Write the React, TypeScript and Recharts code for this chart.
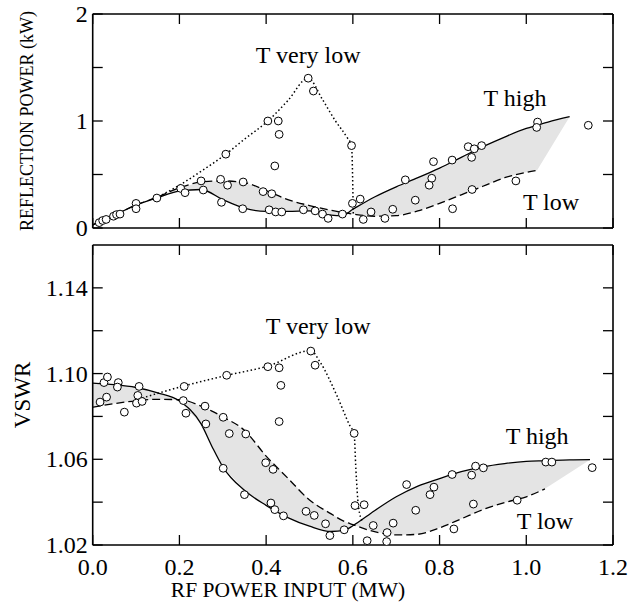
import React from 'react';
import { ComposedChart, Line, Area, Scatter, XAxis, YAxis, ReferenceDot } from 'recharts';

const FONT = "'Liberation Serif', 'Times New Roman', Times, serif";

// shared x axis, RF power input (MW)
const xTicks = [0, 0.2, 0.4, 0.6, 0.8, 1.0, 1.2];

// ---- top panel: reflection power (kW)
const reflTicks = [0, 0.5, 1, 1.5, 2];
const reflX = [0, 0.05, 0.1, 0.15, 0.2, 0.25, 0.3, 0.35, 0.4, 0.45, 0.5, 0.55, 0.575, 0.6, 0.65, 0.7, 0.75, 0.8, 0.85, 0.9, 0.95, 1.0, 1.025, 1.05, 1.1];
const reflHigh = [0.03, 0.12, 0.215, 0.285, 0.345, 0.36, 0.265, 0.185, 0.155, 0.155, 0.16, 0.12, 0.115, 0.175, 0.29, 0.385, 0.47, 0.56, 0.66, 0.76, 0.85, 0.93, 0.96, 0.99, 1.04];
const reflLow = [0.03, 0.12, 0.215, 0.29, 0.375, 0.43, 0.44, 0.425, 0.35, 0.265, 0.21, 0.165, 0.145, 0.13, 0.11, 0.115, 0.16, 0.23, 0.31, 0.39, 0.47, 0.52, 0.54, null, null];
const reflVeryLowX = [0.16, 0.2, 0.25, 0.307, 0.35, 0.404, 0.45, 0.497, 0.53, 0.56, 0.586, 0.597, 0.601];
const reflVeryLowY = [0.31, 0.4, 0.53, 0.69, 0.83, 1.0, 1.19, 1.4, 1.2, 1.0, 0.85, 0.77, 0.13];
const reflPtsX = [0.015, 0.023, 0.031, 0.048, 0.055, 0.063, 0.1, 0.1, 0.148, 0.203, 0.213, 0.255, 0.25, 0.295, 0.297, 0.311, 0.346, 0.347, 0.307, 0.393, 0.413, 0.404, 0.428, 0.43, 0.42, 0.407, 0.422, 0.436, 0.486, 0.513, 0.53, 0.543, 0.497, 0.509, 0.576, 0.597, 0.599, 0.617, 0.624, 0.642, 0.674, 0.692, 0.721, 0.744, 0.782, 0.776, 0.786, 0.829, 0.83, 0.866, 0.88, 0.897, 0.874, 0.875, 0.976, 1.026, 1.024, 1.143];
const reflPtsY = [0.05, 0.07, 0.08, 0.11, 0.125, 0.13, 0.23, 0.18, 0.28, 0.37, 0.33, 0.355, 0.44, 0.455, 0.24, 0.4, 0.18, 0.43, 0.69, 0.34, 0.32, 1.0, 1.0, 0.875, 0.58, 0.17, 0.15, 0.15, 0.17, 0.16, 0.13, 0.09, 1.4, 1.28, 0.13, 0.77, 0.23, 0.27, 0.08, 0.15, 0.09, 0.175, 0.45, 0.26, 0.465, 0.4, 0.62, 0.635, 0.18, 0.76, 0.74, 0.77, 0.66, 0.36, 0.44, 0.99, 0.94, 0.96];

// ---- bottom panel: VSWR
const vswrTicks = [1.02, 1.04, 1.06, 1.08, 1.1, 1.12, 1.14];
const vswrLabelled = [1.02, 1.06, 1.1, 1.14];
const vswrX = [0, 0.05, 0.1, 0.15, 0.2, 0.25, 0.275, 0.3, 0.35, 0.4, 0.45, 0.5, 0.55, 0.58, 0.6, 0.65, 0.7, 0.75, 0.8, 0.85, 0.9, 0.95, 1.0, 1.043, 1.1, 1.147];
const vswrHigh = [1.0955, 1.0948, 1.0935, 1.091, 1.0872, 1.0765, 1.066, 1.0565, 1.0455, 1.0385, 1.0328, 1.0288, 1.0263, 1.0268, 1.029, 1.036, 1.0425, 1.0475, 1.051, 1.0542, 1.0565, 1.058, 1.059, 1.0593, 1.0597, 1.0598];
const vswrLow = [1.0843, 1.086, 1.0873, 1.088, 1.0878, 1.0848, 1.0825, 1.0798, 1.0735, 1.0615, 1.0512, 1.041, 1.0345, 1.031, 1.0295, 1.0262, 1.0247, 1.025, 1.028, 1.0322, 1.0365, 1.0398, 1.0425, 1.0462, null, null];
const vswrVeryLowX = [0.114, 0.21, 0.31, 0.404, 0.503, 0.524, 0.563, 0.593, 0.603, 0.607, 0.613, 0.622];
const vswrVeryLowY = [1.0886, 1.0942, 1.0992, 1.1035, 1.1107, 1.1055, 1.0898, 1.0757, 1.0718, 1.0553, 1.038, 1.031];
const vswrPtsX = [0.017, 0.026, 0.034, 0.032, 0.059, 0.057, 0.073, 0.107, 0.104, 0.101, 0.114, 0.211, 0.209, 0.215, 0.259, 0.261, 0.301, 0.315, 0.309, 0.301, 0.353, 0.35, 0.399, 0.416, 0.404, 0.43, 0.434, 0.43, 0.411, 0.42, 0.44, 0.492, 0.511, 0.537, 0.547, 0.503, 0.513, 0.58, 0.603, 0.605, 0.626, 0.633, 0.647, 0.679, 0.678, 0.693, 0.724, 0.745, 0.778, 0.787, 0.829, 0.833, 0.874, 0.883, 0.901, 0.878, 0.979, 1.045, 1.059, 1.152];
const vswrPtsY = [1.0867, 1.0958, 1.0984, 1.089, 1.0958, 1.0937, 1.082, 1.094, 1.0898, 1.0862, 1.087, 1.094, 1.0874, 1.0815, 1.0848, 1.0765, 1.0796, 1.072, 1.0992, 1.0558, 1.0718, 1.0435, 1.0584, 1.0553, 1.1032, 1.1027, 1.0945, 1.0776, 1.0396, 1.0365, 1.0336, 1.0357, 1.0338, 1.0299, 1.0244, 1.1105, 1.1039, 1.0271, 1.0721, 1.0384, 1.0388, 1.022, 1.0291, 1.0258, 1.0216, 1.0302, 1.0482, 1.0362, 1.0435, 1.047, 1.0529, 1.0275, 1.0526, 1.0568, 1.056, 1.0391, 1.0409, 1.0587, 1.0587, 1.0561];

// curve labels
const labelText = ['T very low', 'T high', 'T low'];
const reflLabelX = [0.497, 0.974, 1.057];
const reflLabelY = [1.617, 1.215, 0.243];
const vswrLabelX = [0.52, 1.025, 1.043];
const vswrLabelY = [1.1221, 1.0708, 1.0313];

const curveRows = (xs: number[], hi: number[], lo: (number | null)[]) => {
  const last = xs.length - 1;
  return xs.map((x, i) => ({
    x,
    high: hi[i],
    low: lo[i],
    band: lo[i] != null ? [lo[i], hi[i]] : i === last ? [hi[i], hi[i]] : null,
  }));
};
const zipRows = (xs: number[], ys: number[]) => xs.map((x, i) => ({ x, y: ys[i] }));

const reflRows = curveRows(reflX, reflHigh, reflLow);
const vswrRows = curveRows(vswrX, vswrHigh, vswrLow);

type Side = 'bottom' | 'top' | 'left' | 'right';
const TICK = 10;
const txtStyle = { fontFamily: FONT };

const makeTick = (side: Side, fmt?: (v: number) => string) => (p: any) => {
  const { x, y, payload } = p;
  const v = payload.value;
  let x2 = x;
  let y2 = y;
  if (side === 'bottom') y2 = y - TICK;
  if (side === 'top') y2 = y + TICK;
  if (side === 'left') x2 = x + TICK;
  if (side === 'right') x2 = x - TICK;
  const txt = fmt ? fmt(v) : '';
  return (
    <g>
      <line x1={x} y1={y} x2={x2} y2={y2} stroke="#000" strokeWidth={1.3} />
      {txt && side === 'bottom' && (
        <text x={x} y={y + 22} textAnchor="middle" dominantBaseline="central" style={txtStyle} fontSize={24} fill="#000">
          {txt}
        </text>
      )}
      {txt && side === 'left' && (
        <text x={x - 5} y={y} textAnchor="end" dominantBaseline="central" style={txtStyle} fontSize={24} fill="#000">
          {txt}
        </text>
      )}
    </g>
  );
};

// axis title; placed by page position, the props Recharts injects are ignored
const Title = ({ px, py, text, size, rotate }: any) => (
  <text
    x={px}
    y={py}
    transform={rotate ? `rotate(-90 ${px} ${py})` : undefined}
    textAnchor="middle"
    dominantBaseline="central"
    style={txtStyle}
    fontSize={size}
    fill="#000"
  >
    {text}
  </text>
);

const Dot = (p: any) => <circle cx={p.cx} cy={p.cy} r={3.9} fill="#fff" stroke="#000" strokeWidth={1} />;

const axisLine = { stroke: '#000', strokeWidth: 1.6 };

const Annot = (text: string) => (p: any) => (
  <text x={p.cx} y={p.cy} textAnchor="middle" dominantBaseline="central" style={txtStyle} fontSize={24} fill="#000">
    {text}
  </text>
);

function Panel(props: {
  margin: any;
  yDomain: [number, number];
  yTicks: number[];
  yFmt: (v: number) => string;
  xFmt?: (v: number) => string;
  rows: any[];
  veryLow: any[];
  pts: any[];
  labX: number[];
  labY: number[];
  yTitle: any;
  xTitle?: any;
}) {
  const { margin, yDomain, yTicks, yFmt, xFmt, rows, veryLow, pts, labX, labY } = props;
  return (
    <ComposedChart width={630} height={603} margin={margin}>
      <XAxis
        type="number"
        dataKey="x"
        domain={[0, 1.2]}
        ticks={xTicks}
        interval={0}
        allowDataOverflow
        height={1}
        tickSize={0}
        tickMargin={0}
        tickLine={false}
        axisLine={axisLine}
        tick={makeTick('bottom', xFmt)}
        label={props.xTitle}
      />
      <XAxis
        xAxisId="top"
        orientation="top"
        type="number"
        dataKey="x"
        domain={[0, 1.2]}
        ticks={xTicks}
        interval={0}
        allowDataOverflow
        height={1}
        tickSize={0}
        tickMargin={0}
        tickLine={false}
        axisLine={axisLine}
        tick={makeTick('top')}
      />
      <YAxis
        type="number"
        domain={yDomain}
        ticks={yTicks}
        interval={0}
        allowDataOverflow
        width={1}
        tickSize={0}
        tickMargin={0}
        tickLine={false}
        axisLine={axisLine}
        tick={makeTick('left', yFmt)}
        label={props.yTitle}
      />
      <YAxis
        yAxisId="right"
        orientation="right"
        type="number"
        domain={yDomain}
        ticks={yTicks}
        interval={0}
        allowDataOverflow
        width={1}
        tickSize={0}
        tickMargin={0}
        tickLine={false}
        axisLine={axisLine}
        tick={makeTick('right')}
      />
      <Area data={rows} dataKey="band" type="linear" fill="#e4e4e4" fillOpacity={1} stroke="none" connectNulls isAnimationActive={false} activeDot={false} />
      <Line data={rows} dataKey="high" type="monotone" stroke="#000" strokeWidth={1.3} dot={false} activeDot={false} isAnimationActive={false} />
      <Line data={rows} dataKey="low" type="monotone" stroke="#000" strokeWidth={1.3} strokeDasharray="8 4" dot={false} activeDot={false} isAnimationActive={false} />
      <Line data={veryLow} dataKey="y" type="monotone" stroke="#000" strokeWidth={1.5} strokeDasharray="1.5 2.5" dot={false} activeDot={false} isAnimationActive={false} />
      <Scatter data={pts} dataKey="y" shape={Dot} isAnimationActive={false} />
      {labelText.map((t, i) => (
        <ReferenceDot key={t} x={labX[i]} y={labY[i]} r={0} ifOverflow="visible" shape={Annot(t)} />
      ))}
    </ComposedChart>
  );
}

export default function App() {
  return (
    <div style={{ position: 'absolute', left: 0, top: 0, width: 630, height: 603, background: '#fff' }}>
      <div style={{ position: 'absolute', left: 0, top: 0 }}>
        <Panel
          margin={{ top: 13, right: 16, bottom: 374, left: 91.7 }}
          yDomain={[0, 2]}
          yTicks={reflTicks}
          yFmt={(v) => (Number.isInteger(v) ? String(v) : '')}
          rows={reflRows}
          veryLow={zipRows(reflVeryLowX, reflVeryLowY)}
          pts={zipRows(reflPtsX, reflPtsY)}
          labX={reflLabelX}
          labY={reflLabelY}
          yTitle={<Title px={27} py={121} text="REFLECTION POWER (kW)" size={18} rotate />}
        />
      </div>
      <div style={{ position: 'absolute', left: 0, top: 0 }}>
        <Panel
          margin={{ top: 244, right: 16, bottom: 57, left: 91.7 }}
          yDomain={[1.02, 1.16]}
          yTicks={vswrTicks}
          yFmt={(v) => (vswrLabelled.some((l) => Math.abs(l - v) < 1e-6) ? v.toFixed(2) : '')}
          xFmt={(v) => v.toFixed(1)}
          rows={vswrRows}
          veryLow={zipRows(vswrVeryLowX, vswrVeryLowY)}
          pts={zipRows(vswrPtsX, vswrPtsY)}
          labX={vswrLabelX}
          labY={vswrLabelY}
          yTitle={<Title px={22} py={395} text="VSWR" size={23} rotate />}
          xTitle={<Title px={288} py={590} text="RF POWER INPUT (MW)" size={21.5} />}
        />
      </div>
    </div>
  );
}
